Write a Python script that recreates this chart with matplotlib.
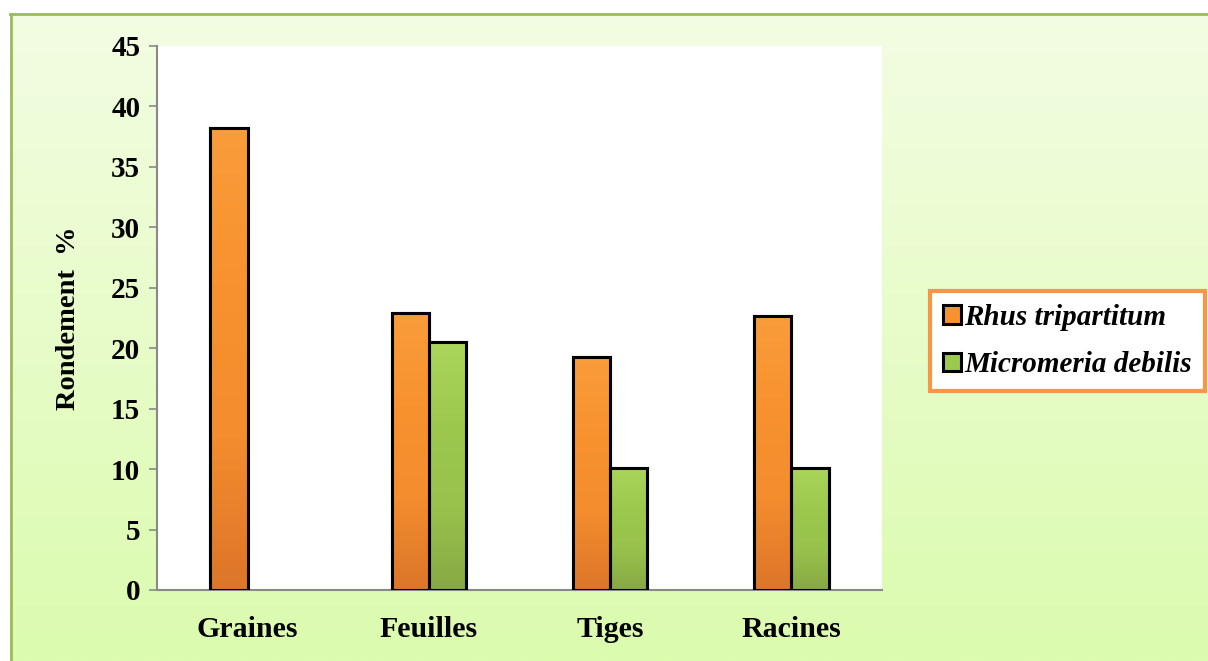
import numpy as np
import matplotlib
matplotlib.use("Agg")
import matplotlib.pyplot as plt
from matplotlib.colors import LinearSegmentedColormap
from matplotlib.patches import Rectangle

# data
categories = ["Graines", "Feuilles", "Tiges", "Racines"]
rhus = [38.2, 22.9, 19.3, 22.7]
micromeria = [np.nan, 20.5, 10.1, 10.1]
series_names = ["Rhus tripartitum", "Micromeria debilis"]
yticks = [0, 5, 10, 15, 20, 25, 30, 35, 40, 45]

plt.rcParams["font.family"] = ["Liberation Serif", "DejaVu Serif"]

fig = plt.figure(figsize=(12.08, 6.61), dpi=100)
fig.patch.set_facecolor("white")

# background panel with light green gradient
bg = fig.add_axes([10 / 1208, 0, 1 - 10 / 1208, 1 - 13 / 661])
bg_cmap = LinearSegmentedColormap.from_list("bg", ["#f3fde3", "#dbfbae"])
bg.imshow(np.linspace(0, 1, 256).reshape(-1, 1), cmap=bg_cmap, aspect="auto",
          extent=[0, 1, 0, 1], origin="upper")
bg.set_xlim(0, 1)
bg.set_ylim(0, 1)
bg.axis("off")
bg.plot([0.0008, 0.0008], [0, 0.998], color="#9bbb59", lw=2.0, clip_on=False)
bg.plot([0, 1], [0.998, 0.998], color="#9bbb59", lw=2.0, clip_on=False)

ax = fig.add_axes([157 / 1208, 1 - 590 / 661, 725 / 1208, 544 / 661])
ax.set_facecolor("white")

x = np.arange(len(categories))
w = 0.205
bars1 = ax.bar(x - w / 2, rhus, w, color="#f7922f", edgecolor="black",
               linewidth=2.2, label=series_names[0], zorder=3)
bars2 = ax.bar(x + w / 2, micromeria, w, color="#9cc84e", edgecolor="black",
               linewidth=2.2, label=series_names[1], zorder=3)

# vertical gradient inside bars
orange_cm = LinearSegmentedColormap.from_list("o", ["#fa9c3a", "#f7922f", "#f38d2e", "#dc7629"])
green_cm = LinearSegmentedColormap.from_list("g", ["#a9d65a", "#9cc84e", "#98c24c", "#87a944"])
grad = np.linspace(0, 1, 100).reshape(-1, 1)
for bars, cm in ((bars1, orange_cm), (bars2, green_cm)):
    for b in bars:
        h = b.get_height()
        if np.isnan(h) or h == 0:
            continue
        im = ax.imshow(grad, cmap=cm, aspect="auto", origin="upper",
                       extent=[b.get_x(), b.get_x() + b.get_width(), 0, h], zorder=3.5)
        im.set_clip_path(b)
        edge = Rectangle((b.get_x(), 0), b.get_width(), h, fill=False,
                         edgecolor="black", linewidth=2.2, zorder=4)
        ax.add_patch(edge)

ax.set_xlim(-0.5, 3.5)
ax.set_ylim(0, 45)
ax.set_yticks(yticks)
ax.set_xticks(x)
ax.set_xticklabels(categories, fontsize=21.5, fontweight="bold")
ax.tick_params(axis="x", length=0, pad=19)
ax.tick_params(axis="y", length=6, width=1.2, color="#898989", labelsize=21, pad=6)
for lbl in ax.get_yticklabels():
    lbl.set_fontweight("bold")
for s in ["top", "right"]:
    ax.spines[s].set_visible(False)
for s in ["left", "bottom"]:
    ax.spines[s].set_color("#898989")
    ax.spines[s].set_linewidth(1.5)
ax.set_ylabel("Rondement  %", fontsize=20.5, fontweight="bold", labelpad=22)

leg = fig.legend(handles=[bars1, bars2], labels=series_names,
                 loc="center left", bbox_to_anchor=(930 / 1208, 1 - 341 / 661),
                 prop={"size": 21, "style": "italic", "weight": "bold"},
                 frameon=True, fancybox=False, handlelength=0.6, handleheight=0.6,
                 handletextpad=0.12, labelspacing=0.7, borderpad=0.45, borderaxespad=0)
leg.get_frame().set_edgecolor("#f79646")
leg.get_frame().set_linewidth(3)
leg.get_frame().set_facecolor("white")
leg.get_frame().set_alpha(1)

fig.savefig("out.png", dpi=100)
